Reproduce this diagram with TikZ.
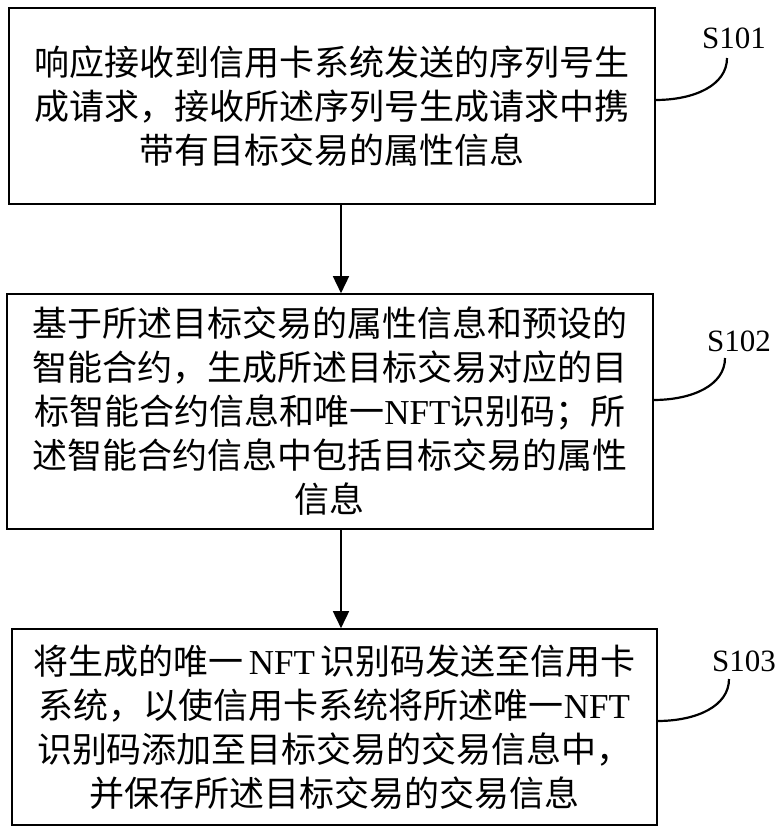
\documentclass[tikz,border=0pt]{standalone}
\usepackage{fontspec}
\setmainfont{Noto Sans CJK SC}
\newfontfamily\latserif{Liberation Serif}
\usetikzlibrary{arrows.meta}
\newcommand{\nft}{{\latserif NFT}}
\begin{document}
\begin{tikzpicture}[x=1pt,y=-1pt,
  stepbox/.style={draw, line width=1.6pt, align=center, inner sep=0pt,
    font=\fontsize{35}{44}\selectfont},
  arr/.style={line width=1.6pt, -{Triangle[length=17pt,width=16pt]}},
  lead/.style={line width=2.2pt},
  lbl/.style={font=\latserif\fontsize{31}{31}\selectfont, inner sep=0pt}]
\useasboundingbox (0,0) rectangle (780,833);
\fill[white] (0,0) rectangle (780,833);

\node[stepbox, minimum width=646pt, minimum height=196pt] (b1) at (332,106)
  {响应接收到信用卡系统发送的序列号生\\成请求，接收所述序列号生成请求中携\\带有目标交易的属性信息};
\node[stepbox, minimum width=646pt, minimum height=235pt] (b2) at (330,411.5)
  {基于所述目标交易的属性信息和预设的\\智能合约，生成所述目标交易对应的目\\标智能合约信息和唯一\nft 识别码；所\\述智能合约信息中包括目标交易的属性\\信息};
\node[stepbox, minimum width=645pt, minimum height=196pt] (b3) at (334.5,727)
  {将生成的唯一\,\nft\,识别码发送至信用卡\\系统，以使信用卡系统将所述唯一\nft\\识别码添加至目标交易的交易信息中，\\并保存所述目标交易的交易信息};

\coordinate (ax) at (341,0);
\draw[arr] (b1.south -| ax) -- (b2.north -| ax);
\draw[arr] (b2.south -| ax) -- (b3.north -| ax);

\node[lbl] (l1) at (734,38) {S101};
\node[lbl] (l2) at (739,341) {S102};
\node[lbl] (l3) at (744,661) {S103};

\coordinate (s1) at (655,100);
\coordinate (e1) at (727,58);
\coordinate (s2) at (653,400);
\coordinate (e2) at (725,358);
\coordinate (s3) at (657,721);
\coordinate (e3) at (729,679);
\draw[lead] (s1) .. controls (695,100) and (727,85) .. (e1);
\draw[lead] (s2) .. controls (693,400) and (725,385) .. (e2);
\draw[lead] (s3) .. controls (697,721) and (729,706) .. (e3);
\end{tikzpicture}
\end{document}
